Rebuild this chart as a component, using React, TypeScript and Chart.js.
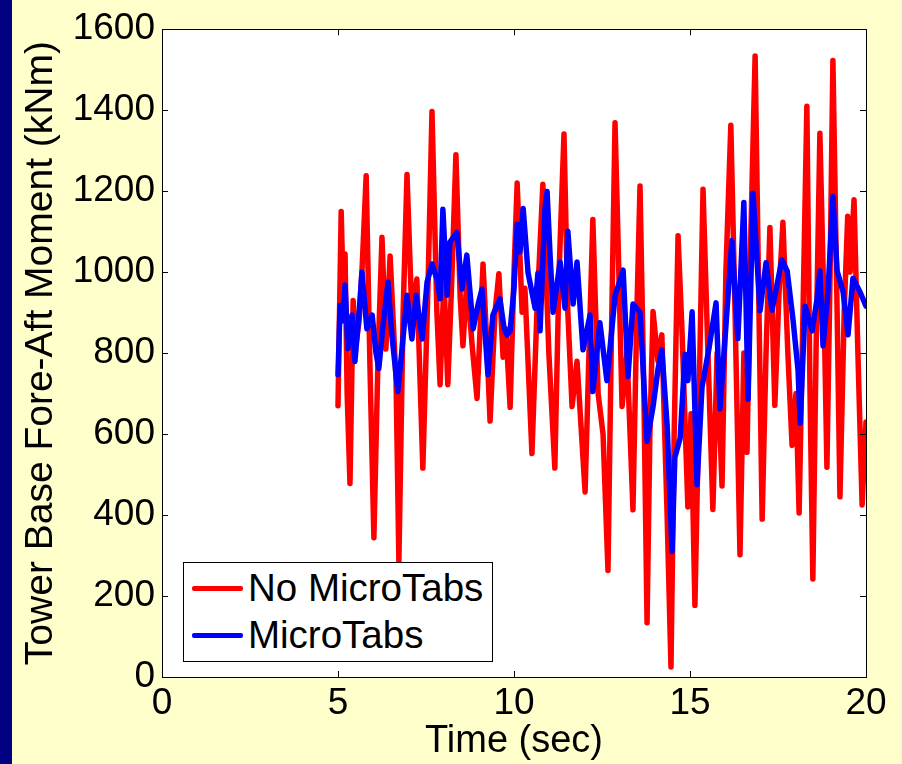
import React, { useEffect, useRef } from "react";
import { Chart, registerables } from "chart.js";

Chart.register(...registerables);

const seriesLabels = ["No MicroTabs", "MicroTabs"];
const xTitle = "Time (sec)";
const yTitle = "Tower Base Fore-Aft Moment (kNm)";
const xTickValues = [0, 5, 10, 15, 20];
const yTickValues = [0, 200, 400, 600, 800, 1000, 1200, 1400, 1600];

const redTime = [
  5.0, 5.09, 5.14, 5.2, 5.26, 5.34, 5.43, 5.51, 5.6, 5.68,
  5.8, 5.91, 6.02, 6.14, 6.25, 6.36, 6.48, 6.65, 6.73, 6.85,
  6.96, 7.1, 7.24, 7.41, 7.56, 7.67, 7.81, 7.9, 8.01, 8.12,
  8.24, 8.35, 8.47, 8.55, 8.66, 8.81, 8.95, 9.12, 9.23, 9.32,
  9.46, 9.57, 9.69, 9.77, 9.89, 10.0, 10.09, 10.23, 10.31, 10.51,
  10.65, 10.82, 10.99, 11.16, 11.28, 11.42, 11.53, 11.65, 11.79, 12.02,
  12.13, 12.24, 12.39, 12.53, 12.67, 12.76, 12.87, 12.95, 13.07, 13.21,
  13.38, 13.49, 13.58, 13.69, 13.78, 13.86, 13.95, 14.09, 14.2, 14.35,
  14.46, 14.55, 14.66, 14.77, 14.94, 15.03, 15.14, 15.26, 15.37, 15.51,
  15.65, 15.77, 15.91, 16.02, 16.16, 16.28, 16.42, 16.53, 16.62, 16.73,
  16.85, 16.96, 17.05, 17.16, 17.27, 17.41, 17.53, 17.64, 17.78, 17.9,
  18.01, 18.1, 18.21, 18.32, 18.41, 18.49, 18.58, 18.69, 18.81, 18.89,
  18.98, 19.06, 19.18, 19.26, 19.38, 19.48, 19.55, 19.66, 19.77, 19.89,
  20.0,
];
const redValues = [
  670, 1150, 980, 1045, 700, 478, 930, 820, 880, 1000,
  1238, 760, 344, 800, 1086, 810, 1040, 730, 285, 900,
  1241, 890, 983, 516, 975, 1397, 900, 722, 980, 722,
  1000, 1290, 941, 818, 980, 820, 688, 1020, 820, 632,
  900, 996, 790, 860, 666, 1000, 1220, 901, 960, 552,
  900, 1217, 800, 516, 1000, 1341, 900, 668, 780, 457,
  800, 1130, 700, 600, 263, 800, 1369, 1100, 668, 800,
  413, 900, 1213, 700, 134, 600, 903, 780, 845, 400,
  25, 600, 1090, 862, 420, 650, 177, 700, 1205, 800,
  414, 800, 472, 1000, 1363, 900, 302, 800, 555, 1100,
  1534, 900, 390, 800, 1110, 671, 950, 1123, 800, 572,
  700, 405, 900, 1410, 700, 242, 800, 1343, 900, 518,
  1000, 1523, 900, 445, 900, 1138, 1000, 1179, 800, 425,
  630,
];

const blueTime = [
  5.0, 5.06, 5.14, 5.2, 5.28, 5.4, 5.48, 5.6, 5.68, 5.82,
  5.97, 6.08, 6.16, 6.28, 6.42, 6.53, 6.7, 6.82, 6.96, 7.1,
  7.22, 7.39, 7.53, 7.67, 7.81, 7.9, 7.98, 8.1, 8.18, 8.38,
  8.52, 8.66, 8.84, 8.98, 9.09, 9.26, 9.4, 9.6, 9.72, 9.8,
  9.89, 10.0, 10.09, 10.17, 10.26, 10.4, 10.6, 10.68, 10.74, 10.88,
  10.94, 11.02, 11.11, 11.31, 11.45, 11.53, 11.68, 11.79, 11.96, 12.16,
  12.24, 12.44, 12.64, 12.87, 13.1, 13.24, 13.38, 13.58, 13.78, 13.95,
  14.09, 14.2, 14.35, 14.49, 14.57, 14.72, 14.86, 14.94, 15.06, 15.2,
  15.34, 15.54, 15.74, 15.85, 15.99, 16.19, 16.36, 16.53, 16.65, 16.79,
  16.99, 17.16, 17.33, 17.61, 17.76, 17.93, 18.07, 18.13, 18.27, 18.47,
  18.61, 18.69, 18.78, 18.92, 19.06, 19.18, 19.35, 19.49, 19.63, 19.83,
  20.0,
];
const blueValues = [
  747, 918, 880, 968, 811, 894, 779, 900, 1000, 860,
  894, 800, 762, 870, 975, 845, 705, 811, 943, 835,
  943, 835, 975, 1020, 983, 934, 1155, 943, 1074, 1098,
  958, 1042, 860, 920, 958, 747, 894, 934, 860, 845,
  855, 960, 1118, 1050, 1157, 998, 911, 998, 855, 1157,
  1199, 1050, 901, 1025, 911, 1101, 921, 1025, 808, 894,
  705, 875, 732, 941, 1005, 742, 921, 901, 582, 668,
  760, 808, 622, 310, 543, 590, 797, 732, 902, 475,
  715, 812, 924, 662, 830, 1078, 836, 1172, 686, 1195,
  905, 1023, 906, 1030, 1003, 880, 757, 627, 916, 855,
  934, 1003, 818, 951, 1187, 1003, 951, 845, 985, 951,
  916,
];

const seriesColors = ["#ff0000", "#0000ff"];
const FONT = "'Liberation Sans', Arial, Helvetica, sans-serif";

const boxPlugin = {
  id: "boxTicks",
  beforeDraw(chart: any) {
    const { ctx, chartArea: a } = chart;
    ctx.save();
    ctx.fillStyle = "#ffffff";
    ctx.fillRect(a.left, a.top, a.right - a.left, a.bottom - a.top);
    ctx.restore();
  },
  afterDraw(chart: any) {
    const { ctx, chartArea: a, scales } = chart;
    const L = 6;
    ctx.save();
    ctx.strokeStyle = "#000000";
    ctx.lineWidth = 1;
    ctx.beginPath();
    scales.x.ticks.forEach((t: any) => {
      const px = Math.round(scales.x.getPixelForValue(t.value)) + 0.5;
      ctx.moveTo(px, a.bottom);
      ctx.lineTo(px, a.bottom - L);
      ctx.moveTo(px, a.top);
      ctx.lineTo(px, a.top + L);
    });
    scales.y.ticks.forEach((t: any) => {
      const py = Math.round(scales.y.getPixelForValue(t.value)) + 0.5;
      ctx.moveTo(a.left, py);
      ctx.lineTo(a.left + L, py);
      ctx.moveTo(a.right, py);
      ctx.lineTo(a.right - L, py);
    });
    ctx.stroke();
    ctx.strokeRect(
      Math.round(a.left) + 0.5,
      Math.round(a.top) + 0.5,
      Math.round(a.right - a.left),
      Math.round(a.bottom - a.top)
    );
    ctx.restore();
  },
};

export default function App() {
  const canvasRef = useRef<HTMLCanvasElement | null>(null);

  useEffect(() => {
    const canvas = canvasRef.current;
    if (!canvas) return;
    const red = redTime.map((t, i) => ({ x: t, y: redValues[i] }));
    const blue = blueTime.map((t, i) => ({ x: t, y: blueValues[i] }));
    const chart = new Chart(canvas, {
      type: "line",
      data: {
        datasets: [
          {
            label: seriesLabels[0],
            data: red,
            borderColor: seriesColors[0],
            backgroundColor: seriesColors[0],
            borderWidth: 5.5,
            pointRadius: 0,
            tension: 0,
            order: 2,
            borderJoinStyle: "round",
            borderCapStyle: "round",
          },
          {
            label: seriesLabels[1],
            data: blue,
            borderColor: seriesColors[1],
            backgroundColor: seriesColors[1],
            borderWidth: 5.5,
            pointRadius: 0,
            tension: 0,
            order: 1,
            borderJoinStyle: "round",
            borderCapStyle: "round",
          },
        ],
      },
      options: {
        animation: false,
        responsive: false,
        maintainAspectRatio: false,
        devicePixelRatio: 1,
        layout: { padding: { left: 12, top: 26, right: 36, bottom: 0 } },
        plugins: {
          legend: { display: false },
          tooltip: { enabled: false },
        },
        scales: {
          x: {
            type: "linear",
            min: 0,
            max: 20,
            afterBuildTicks: (scale: any) => {
              scale.ticks = xTickValues.map((v) => ({ value: v }));
            },
            afterFit: (scale: any) => {
              scale.height = 87;
            },
            grid: { display: false, drawTicks: false },
            border: { display: false },
            ticks: {
              color: "#000000",
              padding: 5,
              maxRotation: 0,
              autoSkip: false,
              font: { family: FONT, size: 37 },
              callback: (v: any) => String(v),
            },
            title: {
              display: true,
              text: xTitle,
              color: "#000000",
              padding: { top: 0, bottom: 0 },
              font: { family: FONT, size: 38 },
            },
          },
          y: {
            type: "linear",
            min: 0,
            max: 1600,
            afterBuildTicks: (scale: any) => {
              scale.ticks = yTickValues.map((v) => ({ value: v }));
            },
            afterFit: (scale: any) => {
              scale.width = 150;
            },
            grid: { display: false, drawTicks: false },
            border: { display: false },
            ticks: {
              color: "#000000",
              padding: 7,
              autoSkip: false,
              font: { family: FONT, size: 37 },
              callback: (v: any) => String(v),
            },
            title: {
              display: true,
              text: yTitle,
              color: "#000000",
              padding: { top: 6, bottom: 0 },
              font: { family: FONT, size: 39 },
            },
          },
        },
      },
      plugins: [boxPlugin],
    } as any);
    return () => chart.destroy();
  }, []);

  const legendFont = { fontFamily: FONT, fontSize: 38.5, lineHeight: "39px", color: "#000" };

  return (
    <div
      style={{
        position: "absolute",
        left: 0,
        top: 0,
        width: 902,
        height: 764,
        background: "#ffffcc",
        overflow: "hidden",
      }}
    >
      <div style={{ position: "absolute", left: 0, top: 0, width: 12, height: 764, background: "#000080" }} />
      <canvas
        ref={canvasRef}
        width={902}
        height={764}
        style={{ position: "absolute", left: 0, top: 0, width: 902, height: 764 }}
      />
      <div
        style={{
          position: "absolute",
          left: 183,
          top: 562,
          width: 308,
          height: 98,
          border: "1px solid #000",
          background: "#ffffff",
        }}
      >
        <div style={{ position: "absolute", left: 8, top: 23, width: 51, height: 5, borderRadius: 2, background: seriesColors[0] }} />
        <div style={{ position: "absolute", left: 64, top: 5, whiteSpace: "nowrap", ...legendFont }}>{seriesLabels[0]}</div>
        <div style={{ position: "absolute", left: 8, top: 70, width: 51, height: 5, borderRadius: 2, background: seriesColors[1] }} />
        <div style={{ position: "absolute", left: 64, top: 52, whiteSpace: "nowrap", ...legendFont }}>{seriesLabels[1]}</div>
      </div>
    </div>
  );
}
